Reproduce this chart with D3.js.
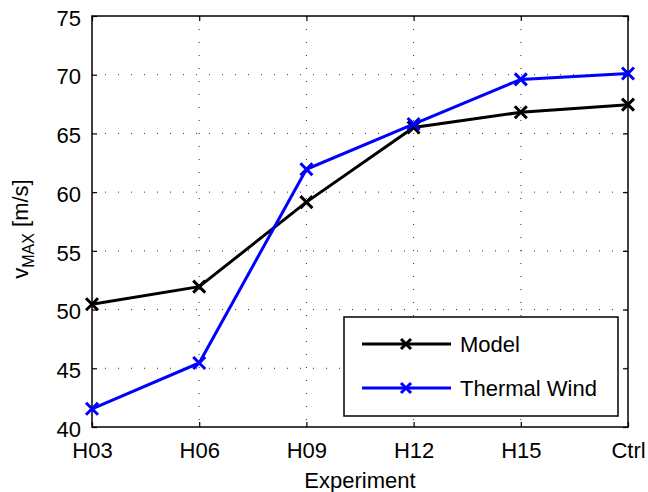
<!DOCTYPE html>
<html>
<head>
<meta charset="utf-8">
<script src="https://cdn.jsdelivr.net/npm/d3@7"></script>
<style>
  body { margin: 0; background: #fff; }
  svg { font-family: "Liberation Sans", Arial, sans-serif; }
</style>
</head>
<body>
<div id="wrapper"></div>
<script>
// data
const experiments = ["H03", "H06", "H09", "H12", "H15", "Ctrl"];
const modelValues = [50.45, 51.95, 59.15, 65.5, 66.8, 67.45];
const thermalValues = [41.55, 45.45, 61.95, 65.8, 69.6, 70.1];
const yTicks = [40, 45, 50, 55, 60, 65, 70, 75];

const seriesList = [
  { name: "Model", values: modelValues, color: "#000000" },
  { name: "Thermal Wind", values: thermalValues, color: "#0000ff" },
];

let dimensions = {
  width: 648,
  height: 492,
  margin: { top: 16, right: 20, bottom: 65, left: 92 },
};
dimensions.boundedWidth =
  dimensions.width - dimensions.margin.left - dimensions.margin.right;
dimensions.boundedHeight =
  dimensions.height - dimensions.margin.top - dimensions.margin.bottom;

const wrapper = d3
  .select("#wrapper")
  .append("svg")
  .attr("width", dimensions.width)
  .attr("height", dimensions.height);

const bounds = wrapper
  .append("g")
  .attr("transform", `translate(${dimensions.margin.left},${dimensions.margin.top})`);

const xScale = d3
  .scalePoint()
  .domain(experiments)
  .range([0, dimensions.boundedWidth]);

const yScale = d3
  .scaleLinear()
  .domain([40, 75])
  .range([dimensions.boundedHeight, 0]);

// grid (dotted)
const grid = bounds.append("g").attr("stroke", "#333").attr("stroke-width", 1)
  .attr("stroke-dasharray", "1,12");
grid.selectAll(".gy")
  .data(yTicks.slice(1, -1))
  .join("line")
  .attr("x1", 0)
  .attr("x2", dimensions.boundedWidth)
  .attr("y1", (d) => yScale(d))
  .attr("y2", (d) => yScale(d));
grid.selectAll(".gx")
  .data(experiments.slice(1, -1))
  .join("line")
  .attr("y1", 0)
  .attr("y2", dimensions.boundedHeight)
  .attr("x1", (d) => xScale(d))
  .attr("x2", (d) => xScale(d));

// axes with inward ticks on all four sides
const fontSize = 22;
const yAxisLeft = bounds.append("g")
  .call(d3.axisLeft(yScale).tickValues(yTicks).tickSizeInner(-5).tickSizeOuter(0).tickPadding(11));
const yAxisRight = bounds.append("g")
  .attr("transform", `translate(${dimensions.boundedWidth},0)`)
  .call(d3.axisRight(yScale).tickValues(yTicks).tickSizeInner(-5).tickSizeOuter(0).tickFormat(""));
const xAxisBottom = bounds.append("g")
  .attr("transform", `translate(0,${dimensions.boundedHeight})`)
  .call(d3.axisBottom(xScale).tickSizeInner(-5).tickSizeOuter(0).tickPadding(15));
const xAxisTop = bounds.append("g")
  .call(d3.axisTop(xScale).tickSizeInner(-5).tickSizeOuter(0).tickFormat(""));

[yAxisLeft, yAxisRight, xAxisBottom, xAxisTop].forEach((ax) => {
  ax.select(".domain").remove();
  ax.selectAll("line").attr("stroke", "#000").attr("stroke-width", 1.2);
  ax.selectAll("text")
    .attr("fill", "#000")
    .style("font-size", `${fontSize}px`)
    .style("font-family", "Liberation Sans, Arial, sans-serif");
});
yAxisLeft.selectAll("text").attr("dy", "0.42em");

// box
bounds.append("rect")
  .attr("width", dimensions.boundedWidth)
  .attr("height", dimensions.boundedHeight)
  .attr("fill", "none")
  .attr("stroke", "#000")
  .attr("stroke-width", 1.5);

// lines + x markers
const lineGenerator = d3.line()
  .x((d, i) => xScale(experiments[i]))
  .y((d) => yScale(d));

const markerPath = (s) => `M${-s},${-s}L${s},${s}M${-s},${s}L${s},${-s}`;

seriesList.forEach((s) => {
  bounds.append("path")
    .attr("d", lineGenerator(s.values))
    .attr("fill", "none")
    .attr("stroke", s.color)
    .attr("stroke-width", 3);
  bounds.append("g")
    .selectAll("path")
    .data(s.values)
    .join("path")
    .attr("transform", (d, i) => `translate(${xScale(experiments[i])},${yScale(d)})`)
    .attr("d", markerPath(6))
    .attr("stroke", s.color)
    .attr("stroke-width", 3)
    .attr("fill", "none");
});

// legend
const legend = bounds.append("g")
  .attr("transform", `translate(${344 - dimensions.margin.left},${317 - dimensions.margin.top})`);
legend.append("rect")
  .attr("width", 274)
  .attr("height", 99)
  .attr("fill", "#fff")
  .attr("stroke", "#000")
  .attr("stroke-width", 1.5);
seriesList.forEach((s, i) => {
  const y = 27 + i * 44;
  legend.append("line")
    .attr("x1", 18).attr("x2", 107)
    .attr("y1", y).attr("y2", y)
    .attr("stroke", s.color).attr("stroke-width", 3);
  legend.append("path")
    .attr("transform", `translate(62,${y})`)
    .attr("d", markerPath(5))
    .attr("stroke", s.color).attr("stroke-width", 3);
  legend.append("text")
    .attr("x", 116)
    .attr("y", y)
    .attr("dy", "0.36em")
    .style("font-size", `${fontSize}px`)
    .text(s.name);
});

// axis labels
wrapper.append("text")
  .attr("x", dimensions.margin.left + dimensions.boundedWidth / 2)
  .attr("y", 488)
  .attr("text-anchor", "middle")
  .style("font-size", `${fontSize}px`)
  .text("Experiment");

const yLabel = wrapper.append("text")
  .attr("transform", `translate(28,229) rotate(-90)`)
  .attr("text-anchor", "middle")
  .style("font-size", `${fontSize}px`);
yLabel.append("tspan").text("v");
yLabel.append("tspan").attr("dy", 6).style("font-size", "16px").text("MAX");
yLabel.append("tspan").attr("dy", -6).text(" [m/s]");
</script>
</body>
</html>
